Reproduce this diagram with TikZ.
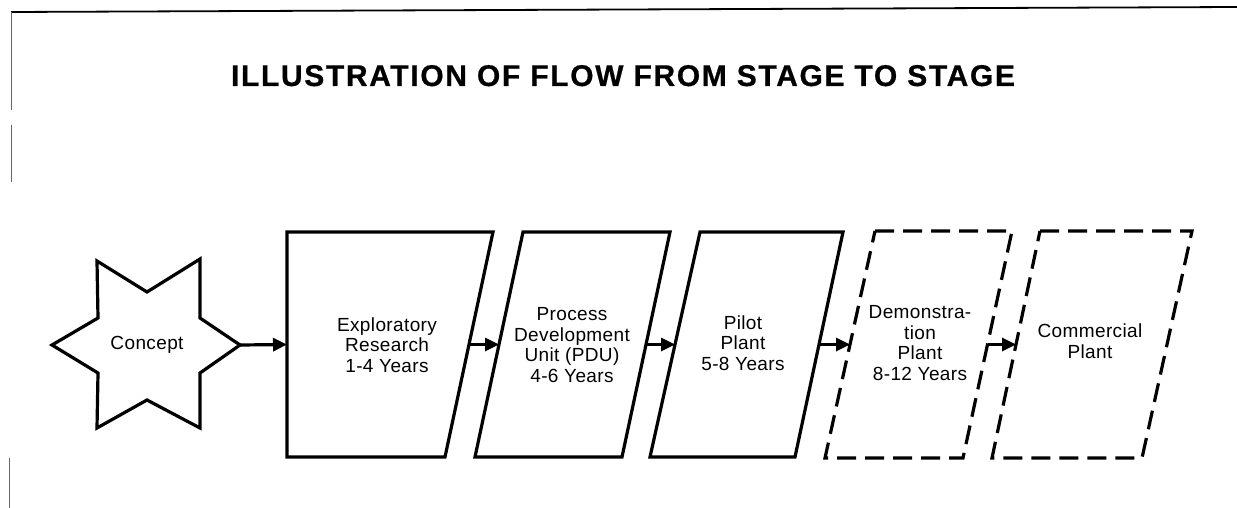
\documentclass[tikz,border=0pt]{standalone}
\usepackage{fontspec}
\setmainfont{Liberation Sans}
\usetikzlibrary{arrows.meta,calc}
\begin{document}
\begin{tikzpicture}[x=1pt,y=-1pt,
  outline/.style={line width=3.2pt,line join=miter},
  dashbox/.style={outline,dash pattern=on 19pt off 9pt},
  flow/.style={line width=3.2pt,-{Triangle[length=14pt,width=13pt]}},
  label/.style={inner sep=0pt,align=center,font=\fontsize{19}{20.5}\selectfont\addfontfeatures{LetterSpace=2}},
  frame/.style={line width=1.8pt},
  edge/.style={line width=1pt,black!60}]
\useasboundingbox (0,0) rectangle (1237,508);
% scanned frame
\coordinate (fTL) at (11,12);
\coordinate (fTR) at (1237,7);
\coordinate (fL1) at (11,110);
\coordinate (fL2) at (11,125);
\coordinate (fL3) at (11,182);
\coordinate (fB1) at (9,458);
\coordinate (fB2) at (9,508);
\draw[frame] (fTL) -- (fTR);
\draw[edge] (fTL) -- (fL1);
\draw[edge] (fL2) -- (fL3);
\draw[edge] (fB1) -- (fB2);
% title
\node[inner sep=0pt,anchor=base,font=\fontsize{30}{32}\bfseries\addfontfeatures{LetterSpace=5.5,FakeBold=0.6}] (title) at (623,86) {ILLUSTRATION OF FLOW FROM STAGE TO STAGE};
% star
\draw[outline] (52,345) coordinate (starL) -- (98,318) -- (97,261) -- (147,292) -- (200,259) -- (200,318)
  -- (240,345) coordinate (starR) -- (200,373) -- (200,428) -- (147,400) -- (97,428) -- (98,373) -- cycle;
\node[label] (concept) at (147,345) {Concept};
% box 1
\coordinate (b1tl) at (287,232); \coordinate (b1tr) at (493,232);
\coordinate (b1br) at (445,457); \coordinate (b1bl) at (287,457);
\draw[outline] (b1tl) -- (b1tr) -- (b1br) -- (b1bl) -- cycle;
\node[label] (t1) at (387,345) {Exploratory\\Research\\1-4 Years};
% box 2
\coordinate (b2tl) at (523,232); \coordinate (b2tr) at (670,232);
\coordinate (b2br) at (622,457); \coordinate (b2bl) at (475,457);
\draw[outline] (b2tl) -- (b2tr) -- (b2br) -- (b2bl) -- cycle;
\node[label] (t2) at (572,345) {Process\\Development\\Unit (PDU)\\4-6 Years};
% box 3
\coordinate (b3tl) at (700,232); \coordinate (b3tr) at (843,232);
\coordinate (b3br) at (795,457); \coordinate (b3bl) at (650,457);
\draw[outline] (b3tl) -- (b3tr) -- (b3br) -- (b3bl) -- cycle;
\node[label] (t3) at (743,343) {Pilot\\Plant\\5-8 Years};
% box 4
\coordinate (b4tl) at (875,231); \coordinate (b4tr) at (1012,231);
\coordinate (b4br) at (963,458); \coordinate (b4bl) at (825,458);
\draw[dashbox] (b4tl) -- (b4tr) -- (b4br) -- (b4bl) -- cycle;
\node[label] (t4) at (920,343) {Demonstra-\\tion\\Plant\\8-12 Years};
% box 5
\coordinate (b5tl) at (1040,231); \coordinate (b5tr) at (1192,231);
\coordinate (b5br) at (1142,458); \coordinate (b5bl) at (992,458);
\draw[dashbox] (b5tl) -- (b5tr) -- (b5br) -- (b5bl) -- cycle;
\node[label] (t5) at (1090,341) {Commercial\\Plant};
% connectors
\coordinate (b1in) at ($(b1tl)!0.5!(b1bl)$);
\draw[flow] (starR) -- (b1in);
\draw[flow] ($(b1tr)!0.5!(b1br)$) -- ($(b2tl)!0.5!(b2bl)$);
\draw[flow] ($(b2tr)!0.5!(b2br)$) -- ($(b3tl)!0.5!(b3bl)$);
\draw[flow] ($(b3tr)!0.5!(b3br)$) -- ($(b4tl)!0.5!(b4bl)$);
\draw[flow] ($(b4tr)!0.5!(b4br)$) -- ($(b5tl)!0.5!(b5bl)$);
\end{tikzpicture}
\end{document}
